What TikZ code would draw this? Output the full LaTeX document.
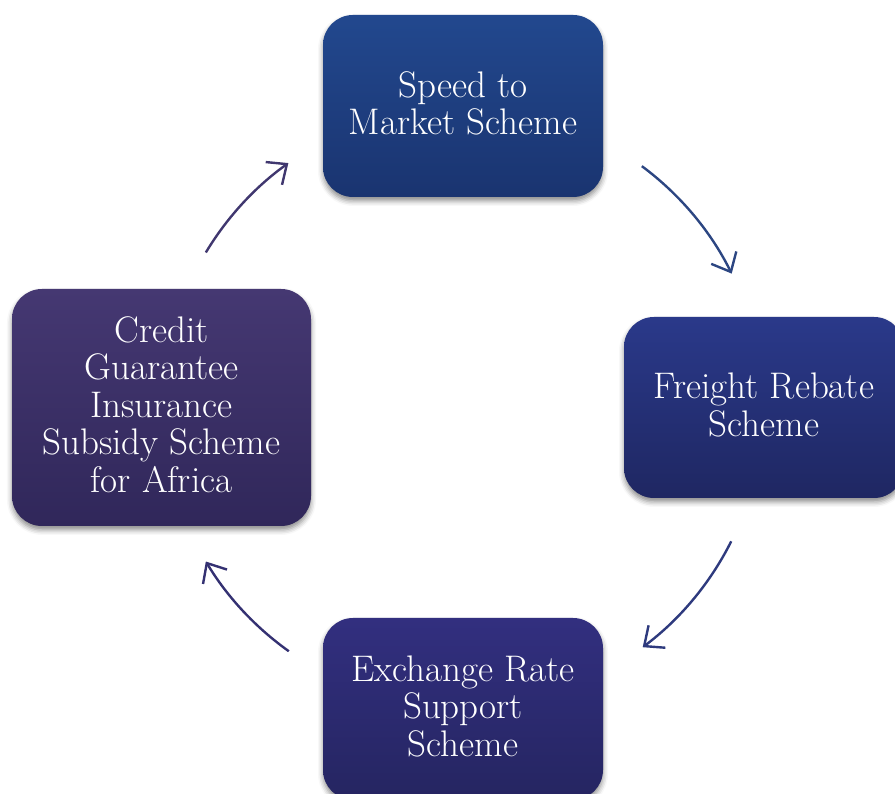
\documentclass[tikz,border=0pt]{standalone}
\usepackage{fontspec}
\usetikzlibrary{arrows.meta,shadows.blur}
\definecolor{tA}{HTML}{22488E}\definecolor{bA}{HTML}{1A3470}
\definecolor{tB}{HTML}{2A398A}\definecolor{bB}{HTML}{1F2762}
\definecolor{tC}{HTML}{322F7F}\definecolor{bC}{HTML}{252561}
\definecolor{tD}{HTML}{453872}\definecolor{bD}{HTML}{30275A}
\definecolor{aA}{HTML}{2C4682}\definecolor{aB}{HTML}{2E3A7E}
\definecolor{aC}{HTML}{343172}\definecolor{aD}{HTML}{40376F}
\begin{document}
\begin{tikzpicture}[x=1pt,y=1pt,
  schemebox/.style={rounded corners=30pt, minimum width=280pt, minimum height=182pt,
    inner sep=0pt, align=center, text=white,
    font=\fontsize{37}{37.5}\selectfont,
    blur shadow={shadow xshift=0pt, shadow yshift=-4pt, shadow blur radius=5pt, shadow opacity=45}},
  cyc/.style={line width=2.4pt, -{Straight Barb[length=16pt,width=28pt,line width=2.4pt]}}]
\useasboundingbox (0,0) rectangle (895,794);
\node[schemebox, top color=tA, bottom color=bA] (speed) at (463,688) {Speed to\\Market Scheme\rule[-6pt]{0pt}{0pt}};
\node[schemebox, top color=tB, bottom color=bB, minimum height=181pt] (freight) at (764,386.5) {Freight Rebate\\Scheme\rule[-6pt]{0pt}{0pt}};
\node[schemebox, top color=tC, bottom color=bC] (exch) at (463,85) {Exchange Rate\\Support\\Scheme\rule[-6pt]{0pt}{0pt}};
\node[schemebox, top color=tD, bottom color=bD, minimum width=299pt, minimum height=237pt] (credit) at (161.5,386.5) {Credit\\Guarantee\\Insurance\\Subsidy Scheme\\for Africa\rule[-6pt]{0pt}{0pt}};
\coordinate (ctr) at (463,387);
\path (ctr) ++(53.4:300pt) coordinate (a1s);
\path (ctr) ++(-26.6:300pt) coordinate (a2s);
\path (ctr) ++(-125.5:300pt) coordinate (a3s);
\path (ctr) ++(149:300pt) coordinate (a4s);
\draw[cyc, aA] (a1s) arc[start angle=53.4, end angle=26.4, radius=300pt];
\draw[cyc, aB] (a2s) arc[start angle=-26.6, end angle=-53.2, radius=300pt];
\draw[cyc, aC] (a3s) arc[start angle=-125.5, end angle=-149, radius=300pt];
\draw[cyc, aD] (a4s) arc[start angle=149, end angle=125.6, radius=300pt];
\end{tikzpicture}
\end{document}
